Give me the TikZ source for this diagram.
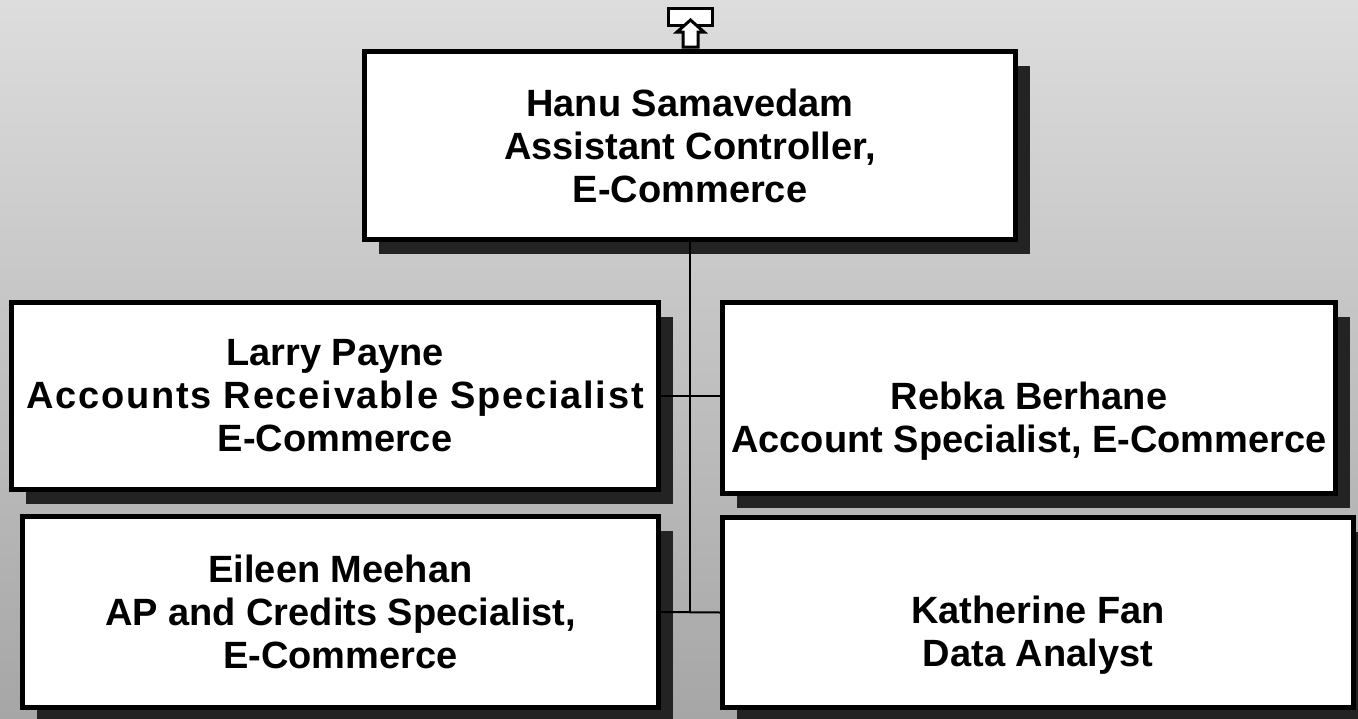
\documentclass[tikz,border=0pt]{standalone}
\usepackage{fontspec}
\setmainfont{Liberation Sans}
\usetikzlibrary{shadows}

\definecolor{bgtop}{HTML}{DDDDDD}
\definecolor{bgbottom}{HTML}{A6A6A6}
\definecolor{shadowgray}{HTML}{232323}

\tikzset{
  orgbox/.style={draw=black, line width=5pt, fill=white, align=center, inner sep=0pt,
    font=\fontsize{38}{43}\selectfont\bfseries,
    drop shadow={shadow xshift=14pt, shadow yshift=-14pt, fill=shadowgray, opacity=1}},
  orglink/.style={line width=2pt}
}

\begin{document}
\begin{tikzpicture}[x=1pt,y=-1pt]
            % background
            \fill [top color=bgtop, bottom color=bgbottom] (0,0) rectangle (1358,718);
            \useasboundingbox (0,0) rectangle (1358,718);

            % Boxes
            \node [orgbox, minimum width=651pt, minimum height=188pt] (hanu) at (690,145.5)
                {Hanu Samavedam\\Assistant Controller,\\E-Commerce};
            \node [orgbox, minimum width=647pt, minimum height=187pt] (larry) at (335,396)
                {Larry Payne\\{\addfontfeature{LetterSpace=4.6}Accounts Receivable Specialist}\\E-Commerce};
            \node [orgbox, minimum width=613pt, minimum height=191pt] (rebka) at (1029,398)
                {\strut\\Rebka Berhane\\Account Specialist, E-Commerce};
            \node [orgbox, minimum width=636pt, minimum height=191pt] (eileen) at (340.5,612)
                {Eileen Meehan\\AP and Credits Specialist,\\E-Commerce};
            \node [orgbox, minimum width=631pt, minimum height=190pt] (katherine) at (1038,612.5)
                {\strut\\Katherine Fan\\Data Analyst};

            % Connectors
            \coordinate (jct) at (690,612);
            \draw [orglink] (hanu.south) -- (jct);
            \draw [orglink] (larry.east) -- (larry.east -| rebka.west);
            \draw [orglink] (eileen.east) -- (katherine.west);

            % Up icon
            \node [draw=black, line width=3pt, fill=white, minimum width=44pt, minimum height=17pt, inner sep=0pt] (uplink) at (690.5,17) {};
            \draw [line width=3pt, fill=white] (690.5,20) -- (704,32) -- (698,32) -- (698,47) -- (683,47) -- (683,32) -- (677,32) -- cycle;
\end{tikzpicture}
\end{document}
